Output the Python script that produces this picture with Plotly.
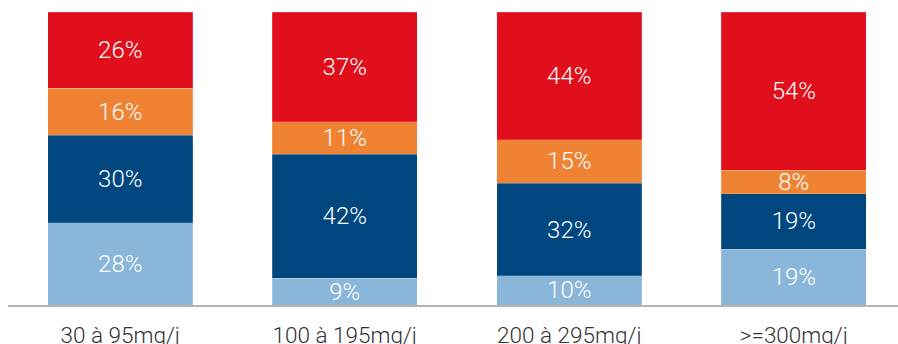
import plotly.graph_objects as go

categories = ["30 à 95mg/j", "100 à 195mg/j", "200 à 295mg/j", ">=300mg/j"]
series_names = ["S1", "S2", "S3", "S4"]
s1 = [28, 9, 10, 19]
s2 = [30, 42, 32, 19]
s3 = [16, 11, 15, 8]
s4 = [26, 37, 44, 54]
colors = ["#8AB6DA", "#004780", "#EF8233", "#E10E1C"]

fig = go.Figure()
for name, vals, col in zip(series_names, [s1, s2, s3, s4], colors):
    fig.add_trace(go.Bar(
        x=categories, y=vals, name=name,
        marker=dict(color=col, line=dict(color="rgba(255,255,255,0.35)", width=0.5)),
        text=[f"{v}%" for v in vals],
        textposition="inside", insidetextanchor="middle",
        constraintext="none",
        textfont=dict(color="white", size=24, family="Roboto", weight=300),
        textangle=0,
    ))

fig.update_layout(
    barmode="stack", barnorm="percent", bargap=0.354,
    width=898, height=344,
    margin=dict(l=8, r=0, t=12, b=39, autoexpand=False),
    plot_bgcolor="white", paper_bgcolor="white",
    showlegend=False,
    uniformtext=dict(mode=False),
    xaxis=dict(range=[-0.5, 3.464], showline=True, linecolor="#B4B4B4", linewidth=1.5,
               automargin=False,
               ticks="", tickfont=dict(size=22.5, family="Roboto", color="#333333", weight=300),
               ticklabelstandoff=9, showgrid=False, zeroline=False),
    yaxis=dict(range=[0, 100], visible=False, showgrid=False, zeroline=False, automargin=False),
)

fig.write_html("out.html")
